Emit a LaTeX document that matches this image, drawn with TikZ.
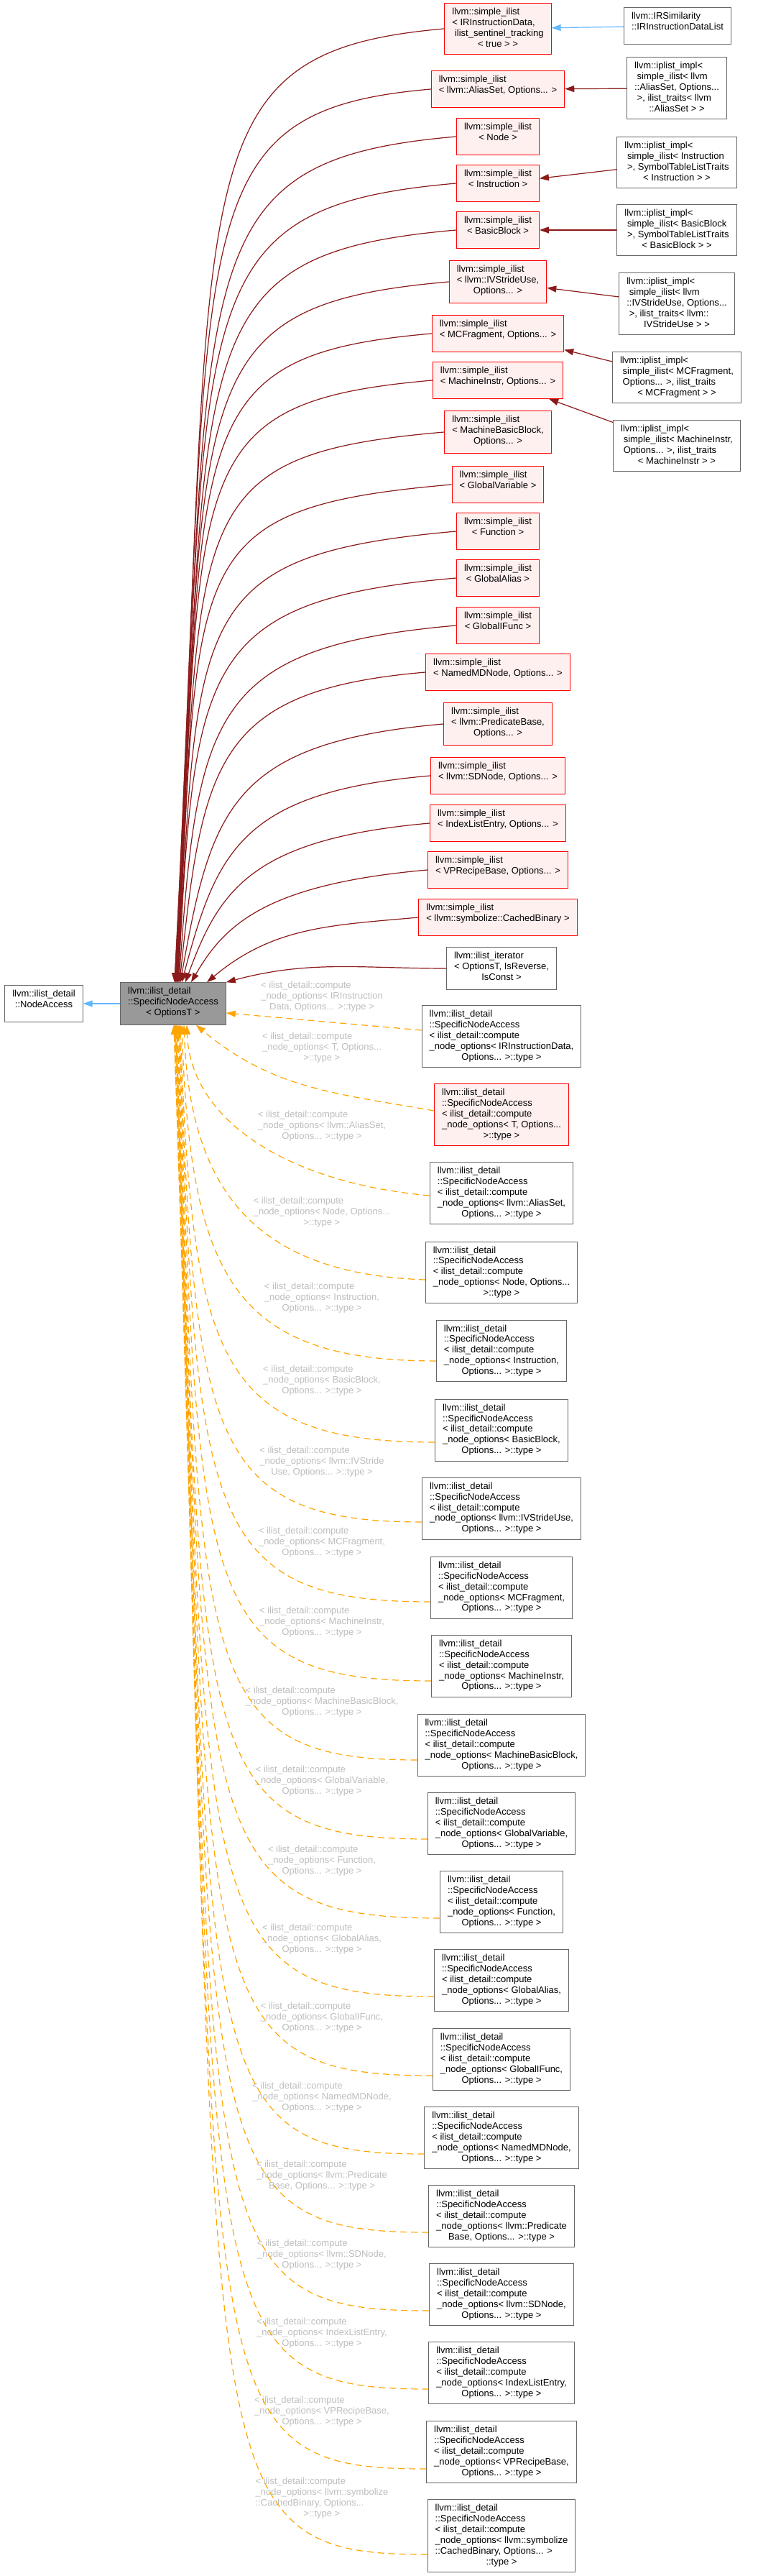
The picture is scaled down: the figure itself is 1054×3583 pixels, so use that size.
\documentclass[tikz,border=0pt]{standalone}
\usepackage{fontspec}
\setmainfont{Liberation Sans}
\usetikzlibrary{arrows.meta}

\definecolor{silfill}{HTML}{FFF0F0}
\definecolor{silline}{HTML}{FF0000}
\definecolor{boxline}{HTML}{666666}
\definecolor{basefill}{HTML}{999999}
\definecolor{privred}{HTML}{8B1A1A}
\definecolor{pubblue}{HTML}{63B8FF}
\definecolor{tmplorange}{HTML}{FFA500}
\definecolor{lblgray}{HTML}{BEBEBE}

% first lines flush left, last line centred
\newcommand{\cls}[2]{\begin{tabular}{@{}l@{}}#1\\\multicolumn{1}{@{}c@{}}{#2}\end{tabular}}
\newcommand{\snahead}{llvm::ilist\_detail\\::SpecificNodeAccess\\< ilist\_detail::compute\\}
\newcommand{\lblhead}{< ilist\_detail::compute\\}

\begin{document}
\begin{tikzpicture}[
    x=0.05pt, y=0.05pt,
    every node/.style={font=\fontsize{0.65pt}{0.75pt}\selectfont, inner xsep=0.525pt, inner ysep=0.275pt},
    silbox/.style={rectangle, draw=silline, fill=silfill, line width=0.05pt},
    whitebox/.style={rectangle, draw=boxline, fill=white, line width=0.05pt},
    basebox/.style={rectangle, draw=boxline, fill=basefill, line width=0.05pt},
    elabel/.style={text=lblgray, inner sep=0pt},
    priv/.style={-{Triangle[length=0.65pt, width=0.45pt]}, draw=privred, line width=0.06pt},
    pub/.style={-{Triangle[length=0.65pt, width=0.45pt]}, draw=pubblue, line width=0.06pt},
    tmpl/.style={-{Triangle[length=0.65pt, width=0.45pt]}, draw=tmplorange, line width=0.06pt,
                 dash pattern=on 0.45pt off 0.3pt}
  ]
  \fill[white] (0,0) rectangle (1054,-3583);
  \useasboundingbox (0,0) rectangle (1054,-3583);

  % simple_ilist column
  \node[silbox] (silIR) at (693,-40) {\cls{llvm::simple\_ilist\\< IRInstructionData,\\\ ilist\_sentinel\_tracking}{< true > >}};
  \node[silbox] (silAlias) at (693,-124) {\cls{llvm::simple\_ilist}{< llvm::AliasSet, Options... >}};
  \node[silbox] (silNode) at (693,-190) {\cls{llvm::simple\_ilist}{< Node >}};
  \node[silbox] (silInst) at (693,-255) {\cls{llvm::simple\_ilist}{< Instruction >}};
  \node[silbox] (silBB) at (693,-320) {\cls{llvm::simple\_ilist}{< BasicBlock >}};
  \node[silbox] (silIVS) at (693,-392) {\cls{llvm::simple\_ilist\\< llvm::IVStrideUse,}{Options... >}};
  \node[silbox] (silMCF) at (693,-464) {\cls{llvm::simple\_ilist}{< MCFragment, Options... >}};
  \node[silbox] (silMI) at (693,-529) {\cls{llvm::simple\_ilist}{< MachineInstr, Options... >}};
  \node[silbox] (silMBB) at (693,-601) {\cls{llvm::simple\_ilist\\< MachineBasicBlock,}{Options... >}};
  \node[silbox] (silGV) at (693,-674) {\cls{llvm::simple\_ilist}{< GlobalVariable >}};
  \node[silbox] (silFn) at (693,-739) {\cls{llvm::simple\_ilist}{< Function >}};
  \node[silbox] (silGA) at (693,-804) {\cls{llvm::simple\_ilist}{< GlobalAlias >}};
  \node[silbox] (silGIF) at (693,-870) {\cls{llvm::simple\_ilist}{< GlobalIFunc >}};
  \node[silbox] (silNMD) at (693,-935) {\cls{llvm::simple\_ilist}{< NamedMDNode, Options... >}};
  \node[silbox] (silPred) at (693,-1007) {\cls{llvm::simple\_ilist\\< llvm::PredicateBase,}{Options... >}};
  \node[silbox] (silSD) at (693,-1079) {\cls{llvm::simple\_ilist}{< llvm::SDNode, Options... >}};
  \node[silbox] (silILE) at (693,-1145) {\cls{llvm::simple\_ilist}{< IndexListEntry, Options... >}};
  \node[silbox] (silVP) at (693,-1210) {\cls{llvm::simple\_ilist}{< VPRecipeBase, Options... >}};
  \node[silbox] (silCB) at (693,-1276) {\cls{llvm::simple\_ilist}{< llvm::symbolize::CachedBinary >}};

  % derived lists on the right
  \node[whitebox] (irsim) at (943,-36) {\cls{llvm::IRSimilarity}{::IRInstructionDataList}};
  \node[whitebox] (ipAlias) at (942,-123) {\cls{llvm::iplist\_impl<\\\ simple\_ilist< llvm\\::AliasSet, Options...\\\ >, ilist\_traits< llvm}{::AliasSet > >}};
  \node[whitebox] (ipInst) at (942,-226) {\cls{llvm::iplist\_impl<\\\ simple\_ilist< Instruction\\\ >, SymbolTableListTraits}{< Instruction > >}};
  \node[whitebox] (ipBB) at (942,-320) {\cls{llvm::iplist\_impl<\\\ simple\_ilist< BasicBlock\\\ >, SymbolTableListTraits}{< BasicBlock > >}};
  \node[whitebox] (ipIVS) at (942,-423) {\cls{llvm::iplist\_impl<\\\ simple\_ilist< llvm\\::IVStrideUse, Options...\\\ >, ilist\_traits< llvm::}{IVStrideUse > >}};
  \node[whitebox] (ipMCF) at (942,-525) {\cls{llvm::iplist\_impl<\\\ simple\_ilist< MCFragment,\\\ Options... >, ilist\_traits}{< MCFragment > >}};
  \node[whitebox] (ipMI) at (942,-620) {\cls{llvm::iplist\_impl<\\\ simple\_ilist< MachineInstr,\\\ Options... >, ilist\_traits}{< MachineInstr > >}};

  \node[whitebox] (iter) at (698,-1347) {\cls{llvm::ilist\_iterator\\< OptionsT, IsReverse,}{IsConst >}};

  % the class itself and its base
  \node[basebox] (cen) at (241,-1396) {\cls{llvm::ilist\_detail\\::SpecificNodeAccess}{< OptionsT >}};
  \node[whitebox] (nacc) at (61,-1396) {\cls{llvm::ilist\_detail}{::NodeAccess}};

  % template instances
  \node[whitebox] (snaIR) at (698,-1442) {\cls{\snahead\_node\_options< IRInstructionData,}{Options... >::type >}};
  \node[silbox] (snaT) at (698,-1551) {\cls{\snahead\_node\_options< T, Options...}{>::type >}};
  \node[whitebox] (snaAlias) at (698,-1660) {\cls{\snahead\_node\_options< llvm::AliasSet,}{Options... >::type >}};
  \node[whitebox] (snaNode) at (698,-1770) {\cls{\snahead\_node\_options< Node, Options...}{>::type >}};
  \node[whitebox] (snaInst) at (698,-1879) {\cls{\snahead\_node\_options< Instruction,}{Options... >::type >}};
  \node[whitebox] (snaBB) at (698,-1989) {\cls{\snahead\_node\_options< BasicBlock,}{Options... >::type >}};
  \node[whitebox] (snaIVS) at (698,-2098) {\cls{\snahead\_node\_options< llvm::IVStrideUse,}{Options... >::type >}};
  \node[whitebox] (snaMCF) at (698,-2208) {\cls{\snahead\_node\_options< MCFragment,}{Options... >::type >}};
  \node[whitebox] (snaMI) at (698,-2317) {\cls{\snahead\_node\_options< MachineInstr,}{Options... >::type >}};
  \node[whitebox] (snaMBB) at (698,-2427) {\cls{\snahead\_node\_options< MachineBasicBlock,}{Options... >::type >}};
  \node[whitebox] (snaGV) at (698,-2536) {\cls{\snahead\_node\_options< GlobalVariable,}{Options... >::type >}};
  \node[whitebox] (snaFn) at (698,-2645) {\cls{\snahead\_node\_options< Function,}{Options... >::type >}};
  \node[whitebox] (snaGA) at (698,-2754) {\cls{\snahead\_node\_options< GlobalAlias,}{Options... >::type >}};
  \node[whitebox] (snaGIF) at (698,-2864) {\cls{\snahead\_node\_options< GlobalIFunc,}{Options... >::type >}};
  \node[whitebox] (snaNMD) at (698,-2973) {\cls{\snahead\_node\_options< NamedMDNode,}{Options... >::type >}};
  \node[whitebox] (snaPred) at (698,-3082) {\cls{\snahead\_node\_options< llvm::Predicate}{Base, Options... >::type >}};
  \node[whitebox] (snaSD) at (698,-3191) {\cls{\snahead\_node\_options< llvm::SDNode,}{Options... >::type >}};
  \node[whitebox] (snaILE) at (698,-3300) {\cls{\snahead\_node\_options< IndexListEntry,}{Options... >::type >}};
  \node[whitebox] (snaVP) at (698,-3410) {\cls{\snahead\_node\_options< VPRecipeBase,}{Options... >::type >}};
  \node[whitebox] (snaCB) at (698,-3527) {\cls{\snahead\_node\_options< llvm::symbolize\\::CachedBinary, Options... >}{::type >}};

  % edge labels
  \node[elabel] (lbIR) at (448,-1388) {\cls{\lblhead\_node\_options< IRInstruction}{Data, Options... >::type >}};
  \node[elabel] (lbT) at (448,-1459) {\cls{\lblhead\_node\_options< T, Options...}{>::type >}};
  \node[elabel] (lbAlias) at (448,-1568) {\cls{\lblhead\_node\_options< llvm::AliasSet,}{Options... >::type >}};
  \node[elabel] (lbNode) at (448,-1688) {\cls{\lblhead\_node\_options< Node, Options...}{>::type >}};
  \node[elabel] (lbInst) at (448,-1807) {\cls{\lblhead\_node\_options< Instruction,}{Options... >::type >}};
  \node[elabel] (lbBB) at (448,-1922) {\cls{\lblhead\_node\_options< BasicBlock,}{Options... >::type >}};
  \node[elabel] (lbIVS) at (448,-2035) {\cls{\lblhead\_node\_options< llvm::IVStride}{Use, Options... >::type >}};
  \node[elabel] (lbMCF) at (448,-2147) {\cls{\lblhead\_node\_options< MCFragment,}{Options... >::type >}};
  \node[elabel] (lbMI) at (448,-2258) {\cls{\lblhead\_node\_options< MachineInstr,}{Options... >::type >}};
  \node[elabel] (lbMBB) at (448,-2369) {\cls{\lblhead\_node\_options< MachineBasicBlock,}{Options... >::type >}};
  \node[elabel] (lbGV) at (448,-2479) {\cls{\lblhead\_node\_options< GlobalVariable,}{Options... >::type >}};
  \node[elabel] (lbFn) at (448,-2590) {\cls{\lblhead\_node\_options< Function,}{Options... >::type >}};
  \node[elabel] (lbGA) at (448,-2699) {\cls{\lblhead\_node\_options< GlobalAlias,}{Options... >::type >}};
  \node[elabel] (lbGIF) at (448,-2808) {\cls{\lblhead\_node\_options< GlobalIFunc,}{Options... >::type >}};
  \node[elabel] (lbNMD) at (448,-2919) {\cls{\lblhead\_node\_options< NamedMDNode,}{Options... >::type >}};
  \node[elabel] (lbPred) at (448,-3028) {\cls{\lblhead\_node\_options< llvm::Predicate}{Base, Options... >::type >}};
  \node[elabel] (lbSD) at (448,-3138) {\cls{\lblhead\_node\_options< llvm::SDNode,}{Options... >::type >}};
  \node[elabel] (lbILE) at (448,-3247) {\cls{\lblhead\_node\_options< IndexListEntry,}{Options... >::type >}};
  \node[elabel] (lbVP) at (448,-3356) {\cls{\lblhead\_node\_options< VPRecipeBase,}{Options... >::type >}};
  \node[elabel] (lbCB) at (448,-3475) {\cls{\lblhead\_node\_options< llvm::symbolize\\::CachedBinary, Options...}{>::type >}};

  % public inheritance
  \draw[pub] (irsim) -- (silIR);
  \draw[pub] (cen) -- (nacc);

  % iplist_impl -> simple_ilist
  \draw[priv] (ipAlias) -- (silAlias);
  \draw[priv] (ipInst) -- (silInst);
  \draw[priv] (ipBB) -- (silBB);
  \draw[priv] (ipIVS) -- (silIVS);
  \draw[priv] (ipMCF) -- (silMCF);
  \draw[priv] (ipMI) -- (silMI);

  % simple_ilist -> SpecificNodeAccess
  \draw[priv] (silIR.west) .. controls +(-379,-33) and +(59,1127) .. ([shift={(2,0)}]cen.north);
  \draw[priv] (silAlias.west) .. controls +(-357,-31) and +(55,1056) .. ([shift={(2,0)}]cen.north);
  \draw[priv] (silNode.west) .. controls +(-391,-34) and +(52,1000) .. ([shift={(3,0)}]cen.north);
  \draw[priv] (silInst.west) .. controls +(-391,-34) and +(49,945) .. ([shift={(3,0)}]cen.north);
  \draw[priv] (silBB.west) .. controls +(-390,-34) and +(47,890) .. ([shift={(4,0)}]cen.north);
  \draw[priv] (silIVS.west) .. controls +(-379,-33) and +(43,829) .. ([shift={(4,0)}]cen.north);
  \draw[priv] (silMCF.west) .. controls +(-356,-31) and +(40,767) .. ([shift={(5,0)}]cen.north);
  \draw[priv] (silMI.west) .. controls +(-357,-31) and +(37,712) .. ([shift={(5,0)}]cen.north);
  \draw[priv] (silMBB.west) .. controls +(-371,-32) and +(34,651) .. ([shift={(6,0)}]cen.north);
  \draw[priv] (silGV.west) .. controls +(-382,-33) and +(31,587) .. ([shift={(6,0)}]cen.north);
  \draw[priv] (silFn.west) .. controls +(-372,-33) and +(27,511) .. ([shift={(7,0)}]cen.north);
  \draw[priv] (silGA.west) .. controls +(-357,-31) and +(23,440) .. ([shift={(7,0)}]cen.north);
  \draw[priv] (silGIF.west) .. controls +(-342,-30) and +(26,372) .. ([shift={(8,0)}]cen.north);
  \draw[priv] (silNMD.west) .. controls +(-291,-25) and +(32,308) .. ([shift={(9,0)}]cen.north);
  \draw[priv] (silPred.west) .. controls +(-295,-26) and +(43,242) .. ([shift={(10,0)}]cen.north);
  \draw[priv] (silSD.west) .. controls +(-265,-23) and +(48,180) .. ([shift={(12,0)}]cen.north);
  \draw[priv] (silILE.west) .. controls +(-248,-22) and +(47,128) .. ([shift={(17,0)}]cen.north);
  \draw[priv] (silVP.west) .. controls +(-227,-20) and +(46,79) .. ([shift={(25,0)}]cen.north);
  \draw[priv] (silCB.west) .. controls +(-120,-11) and +(93,78) .. ([shift={(47,0)}]cen.north);
  \draw[priv] (iter.west) .. controls +(-119,0) and +(115,31) .. (cen.north east);

  % template instantiations
  \draw[tmpl] ([shift={(0,9)}]snaIR.west) -- ([shift={(0,-13)}]cen.east);
  \draw[tmpl] ([shift={(0,6)}]snaT.west) .. controls +(-136,24) and +(106,-89) .. ([shift={(32,0)}]cen.south);
  \draw[tmpl] ([shift={(0,-3)}]snaAlias.west) .. controls +(-201,18) and +(5,-131) .. ([shift={(19,0)}]cen.south);
  \draw[tmpl] ([shift={(0,-10)}]snaNode.west) .. controls +(-235,8) and +(8,-231) .. ([shift={(15,0)}]cen.south);
  \draw[tmpl] ([shift={(0,-14)}]snaInst.west) .. controls +(-280,0) and +(12,-352) .. ([shift={(12,0)}]cen.south);
  \draw[tmpl] ([shift={(0,-17)}]snaBB.west) .. controls +(-300,0) and +(16,-466) .. ([shift={(10,0)}]cen.south);
  \draw[tmpl] ([shift={(0,-19)}]snaIVS.west) .. controls +(-296,0) and +(20,-575) .. ([shift={(9,0)}]cen.south);
  \draw[tmpl] ([shift={(0,-20)}]snaMCF.west) .. controls +(-316,0) and +(24,-683) .. ([shift={(8,0)}]cen.south);
  \draw[tmpl] ([shift={(0,-21)}]snaMI.west) .. controls +(-324,0) and +(28,-795) .. ([shift={(7,0)}]cen.south);
  \draw[tmpl] ([shift={(0,-21)}]snaMBB.west) .. controls +(-310,0) and +(31,-900) .. ([shift={(6,0)}]cen.south);
  \draw[tmpl] ([shift={(0,-22)}]snaGV.west) .. controls +(-330,0) and +(35,-1008) .. ([shift={(5,0)}]cen.south);
  \draw[tmpl] ([shift={(0,-23)}]snaFn.west) .. controls +(-349,0) and +(39,-1119) .. ([shift={(5,0)}]cen.south);
  \draw[tmpl] ([shift={(0,-23)}]snaGA.west) .. controls +(-341,0) and +(43,-1230) .. ([shift={(4,0)}]cen.south);
  \draw[tmpl] ([shift={(0,-23)}]snaGIF.west) .. controls +(-343,0) and +(47,-1345) .. ([shift={(4,0)}]cen.south);
  \draw[tmpl] ([shift={(0,-23)}]snaNMD.west) .. controls +(-332,0) and +(51,-1461) .. ([shift={(3,0)}]cen.south);
  \draw[tmpl] ([shift={(0,-23)}]snaPred.west) .. controls +(-342,0) and +(55,-1562) .. ([shift={(3,0)}]cen.south);
  \draw[tmpl] ([shift={(0,-23)}]snaSD.west) .. controls +(-343,0) and +(59,-1682) .. ([shift={(2,0)}]cen.south);
  \draw[tmpl] ([shift={(0,-23)}]snaILE.west) .. controls +(-343,0) and +(62,-1785) .. ([shift={(2,0)}]cen.south);
  \draw[tmpl] ([shift={(0,-24)}]snaVP.west) .. controls +(-340,0) and +(67,-1909) .. ([shift={(1,0)}]cen.south);
  \draw[tmpl] ([shift={(0,-26)}]snaCB.west) .. controls +(-341,0) and +(71,-2022) .. ([shift={(1,0)}]cen.south);
\end{tikzpicture}
\end{document}
